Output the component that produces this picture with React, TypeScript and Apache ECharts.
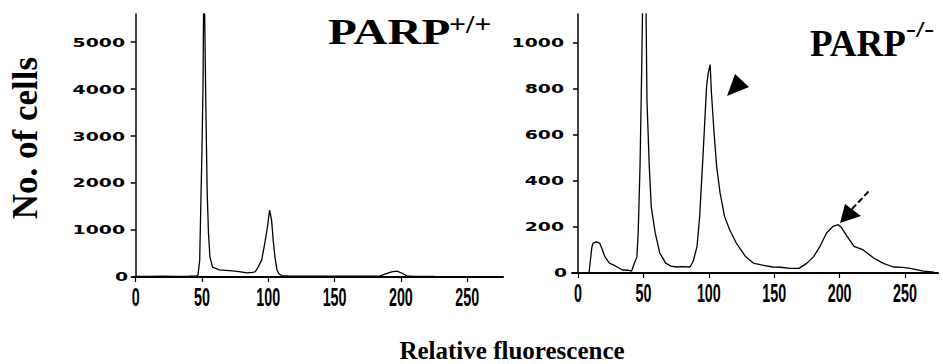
import React, { useEffect, useRef } from "react";
import * as echarts from "echarts";

const xTicks = [0, 50, 100, 150, 200, 250];
const wtYTicks = [0, 1000, 2000, 3000, 4000, 5000];
const koYTicks = [0, 200, 400, 600, 800, 1000];

// PARP+/+ histogram (channel, number of cells)
const wtChannel = [0, 10, 20, 30, 40, 46, 47, 48.3, 49, 50, 50.8, 51.5, 52.9, 53.9, 54.9, 56, 58, 63, 68, 73, 78, 84, 88, 90, 92, 95, 97.4, 99.4, 101, 102.5, 103.7, 105, 106.6, 108, 110, 115, 125, 140, 160, 175, 184, 188, 193, 197, 201, 204.5, 210, 225, 250, 277];
const wtCells = [15, 12, 18, 14, 16, 22, 45, 360, 1360, 2700, 4085, 6800, 3700, 1850, 940, 430, 210, 150, 140, 130, 115, 90, 100, 110, 190, 360, 720, 1070, 1425, 1210, 790, 430, 150, 70, 30, 25, 20, 18, 20, 18, 20, 60, 110, 125, 80, 25, 15, 12, 10, 8];

// PARP-/- histogram
const koChannel = [-4.6, 8.4, 10.6, 11.5, 14, 16.5, 18, 20.6, 24, 27, 30, 34, 38, 41, 42, 45, 46, 47.4, 48.7, 49.6, 51, 51.9, 52.7, 54.5, 56, 59, 62.5, 67, 71, 75.5, 80, 85.6, 88, 91, 93, 95.8, 98.3, 99.6, 101, 102, 104, 106, 108.6, 112, 116, 121, 128, 134, 140, 149, 155, 162, 169, 175, 180, 185, 190, 195, 199, 201, 205.6, 211, 218, 226, 233, 241, 248, 254, 264, 272];
const koCells = [0, 0, 113, 130, 135, 130, 110, 70, 43, 35, 26, 13, 12, 8, 26, 70, 174, 461, 896, 1250, 1600, 1200, 752, 461, 287, 174, 87, 43, 30, 26, 28, 26, 50, 116, 246, 536, 812, 870, 905, 783, 609, 461, 348, 246, 187, 130, 72, 43, 35, 26, 25, 20, 20, 43, 70, 116, 174, 203, 210, 200, 160, 116, 100, 65, 43, 26, 24, 20, 8, 4];

const yTitle = "No. of cells";
const xTitle = "Relative fluorescence";
const wtTitle = ["PARP", "+/+"];
const koTitle = ["PARP", "-/-"];

const serif = '"Liberation Serif", "DejaVu Serif", serif';
const xLabelFont = 'bold 26px "Liberation Sans", Arial, sans-serif';
const yLabelFont = 'bold 13px "DejaVu Sans", sans-serif';

function makeX(gridIndex: number, min: number, max: number) {
  return {
    type: "value",
    gridIndex,
    min,
    max,
    splitLine: { show: false },
    axisLine: { show: true, lineStyle: { color: "#000", width: 2 } },
    axisTick: { show: true, length: 5, customValues: xTicks, lineStyle: { color: "#000", width: 1.2 } },
    axisLabel: { show: false },
  };
}

function makeY(gridIndex: number, max: number, ticks: number[]) {
  return {
    type: "value",
    gridIndex,
    min: 0,
    max,
    splitLine: { show: false },
    axisLine: { show: true, lineStyle: { color: "#000", width: 1.5 } },
    axisTick: { show: true, length: 5, customValues: ticks, lineStyle: { color: "#000", width: 1.5 } },
    axisLabel: { show: false },
  };
}

export default function App() {
  const ref = useRef<HTMLDivElement>(null);
  useEffect(() => {
    if (!ref.current) return;
    const chart = echarts.init(ref.current, null, { renderer: "svg" });
    const lineStyle = { color: "#000", width: 1.3 };
    const xMins = [-2, -4.6];
    chart.setOption({
      animation: false,
      backgroundColor: "#fff",
      grid: [
        { left: 133, top: 14, width: 370, height: 263 },
        { left: 572, top: 14, width: 366, height: 259 },
      ],
      xAxis: [makeX(0, xMins[0], 277), makeX(1, xMins[1], 275.2)],
      yAxis: [makeY(0, 5600, wtYTicks), makeY(1, 1125, koYTicks)],
      series: [
        {
          type: "line",
          xAxisIndex: 0,
          yAxisIndex: 0,
          data: wtChannel.map((c, i) => [c, wtCells[i]]),
          showSymbol: false,
          symbol: "none",
          lineStyle,
          clip: true,
        },
        {
          type: "line",
          xAxisIndex: 1,
          yAxisIndex: 1,
          data: koChannel.map((c, i) => [c, koCells[i]]),
          showSymbol: false,
          symbol: "none",
          lineStyle,
          clip: true,
        },
      ],
    });

    // Tick labels placed through the axes' own scales
    const labels: any[] = [];
    [0, 1].forEach((g) => {
      const yTicks = g === 0 ? wtYTicks : koYTicks;
      xTicks.forEach((v) => {
        const p = chart.convertToPixel({ gridIndex: g }, [v, 0]) as number[];
        labels.push({
          type: "text",
          x: p[0],
          y: p[1] + 20,
          scaleX: 0.55,
          style: { text: String(v), font: xLabelFont, fill: "#000", textAlign: "center", textVerticalAlign: "middle" },
        });
      });
      yTicks.forEach((v) => {
        const p = chart.convertToPixel({ gridIndex: g }, [xMins[g], v]) as number[];
        labels.push({
          type: "text",
          x: p[0] - (v === 0 ? 5 : 8),
          y: p[1],
          scaleX: 1.45,
          style: { text: String(v), font: yLabelFont, fill: "#000", textAlign: "right", textVerticalAlign: "middle" },
        });
      });
    });

    chart.setOption({
      graphic: [
        {
          type: "text",
          x: 25,
          y: 138,
          rotation: Math.PI / 2,
          style: { text: yTitle, font: `bold 35px ${serif}`, fill: "#000", textAlign: "center", textVerticalAlign: "middle" },
        },
        {
          type: "text",
          x: 512,
          y: 350,
          style: { text: xTitle, font: `bold 25px ${serif}`, fill: "#000", textAlign: "center", textVerticalAlign: "middle" },
        },
        {
          type: "text",
          x: 328,
          y: 32,
          scaleX: 1.35,
          style: { text: wtTitle[0], font: `bold 35px ${serif}`, fill: "#000", textAlign: "left", textVerticalAlign: "middle" },
        },
        {
          type: "text",
          x: 449,
          y: 24,
          scaleX: 1.15,
          style: { text: wtTitle[1], font: `bold 26px ${serif}`, fill: "#000", textAlign: "left", textVerticalAlign: "middle" },
        },
        {
          type: "text",
          x: 810,
          y: 43,
          scaleX: 1.0,
          style: { text: koTitle[0], font: `bold 37px ${serif}`, fill: "#000", textAlign: "left", textVerticalAlign: "middle" },
        },
        {
          type: "text",
          x: 906,
          y: 29,
          scaleX: 1.25,
          style: { text: koTitle[1], font: `bold 24px ${serif}`, fill: "#000", textAlign: "left", textVerticalAlign: "middle" },
        },
        {
          type: "polygon",
          shape: { points: [[735, 74], [727, 96], [749, 87]] },
          style: { fill: "#000" },
        },
        {
          type: "polygon",
          shape: { points: [[840, 223], [845, 204], [861, 216]] },
          style: { fill: "#000" },
        },
        {
          type: "line",
          shape: { x1: 852, y1: 209, x2: 869, y2: 191 },
          style: { stroke: "#000", lineWidth: 2, lineDash: [6, 3] },
        },
        ...labels,
      ],
    });
    return () => chart.dispose();
  }, []);
  return <div ref={ref} style={{ position: "fixed", left: 0, top: 0, width: 943, height: 364, background: "#fff" }} />;
}
